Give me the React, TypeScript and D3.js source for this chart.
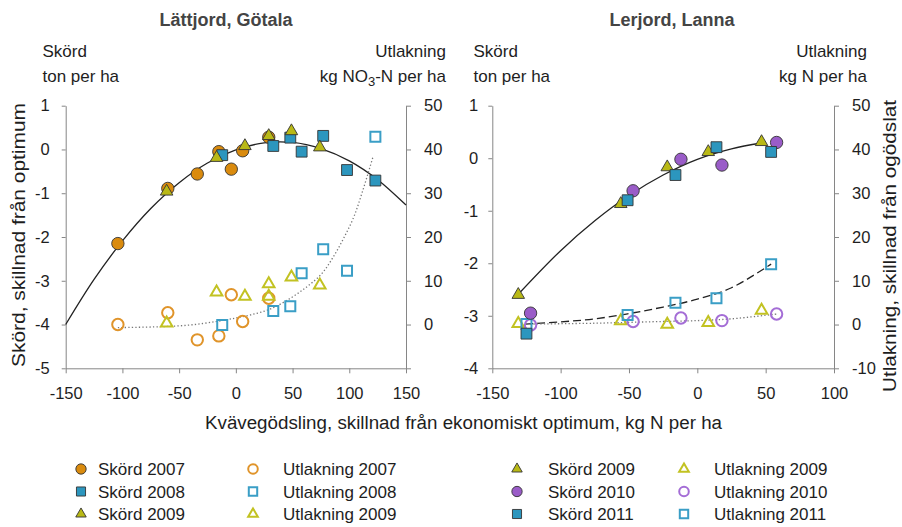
import { useEffect, useRef } from 'react';
import * as d3 from 'd3';

// Lättjord, Götala – x = N difference from economic optimum (kg N/ha)
const gotalaN2007 = [-104, -60, -34, -15, -4, 6, 29];
const gotalaSkord2007 = [-2.15, -0.89, -0.56, -0.05, -0.45, -0.03, 0.28];
const gotalaUtl2007 = [0, 2.7, -3.5, -2.6, 6.8, 0.7, 6.0];

const gotalaN2008 = [-12, 33, 48, 58, 77, 98, 123];
const gotalaSkord2008 = [-0.13, 0.08, 0.27, -0.05, 0.31, -0.47, -0.71];
const gotalaUtl2008 = [-0.1, 3.1, 4.2, 11.7, 17.2, 12.3, 42.9];

const gotalaN2009 = [-61, -17, 8, 29, 49, 74];
const gotalaSkord2009 = [-0.96, -0.19, 0.08, 0.31, 0.42, 0.05];
const gotalaUtlN2009 = [-61, -17, 8, 29, 29, 49, 74];
const gotalaUtl2009 = [0.3, 7.4, 6.4, 9.3, 6.4, 10.8, 9.0];

// trend lines
const gotalaYieldTrendN = [-150, -125, -100, -75, -50, -25, 0, 25, 50, 75, 100, 125, 150];
const gotalaYieldTrend = [-4.0, -2.97, -2.09, -1.35, -0.76, -0.31, -0.01, 0.15, 0.16, 0.02, -0.26, -0.69, -1.27];
const gotalaLeachTrendN = [-104, -67, -40, -17, 0, 13, 30, 48, 63, 76, 86, 95, 104, 112, 121];
const gotalaLeachTrend = [-0.7, -0.5, -0.1, 0.7, 1.5, 2.2, 3.5, 6.0, 8.7, 11.7, 15.5, 19.7, 24.6, 30.7, 38.4];

// Lerjord, Lanna
const lannaN2009 = [-131, -56, -22, 8, 47];
const lannaSkord2009 = [-2.6, -0.87, -0.17, 0.12, 0.31];
const lannaUtl2009 = [0.2, 0.8, 0.0, 0.4, 3.2];

const lannaN2010 = [-122, -47, -12, 18, 58];
const lannaSkord2010 = [-2.95, -0.62, -0.02, -0.13, 0.3];
const lannaUtl2010 = [-0.1, 0.7, 1.5, 0.9, 2.4];

const lannaN2011 = [-125, -51, -16, 14, 54];
const lannaSkord2011 = [-3.34, -0.8, -0.32, 0.21, 0.12];
const lannaUtl2011 = [0.1, 2.2, 5.0, 6.0, 13.8];

const lannaYieldTrendN = [-131, -100, -75, -50, -25, 0, 25, 47];
const lannaYieldTrend = [-2.59, -1.76, -1.19, -0.71, -0.32, -0.02, 0.18, 0.29];
const lannaDashedN = [-126, -100, -75, -50, -25, 0, 25, 54];
const lannaDashed = [0.1, 0.6, 1.3, 2.5, 4.0, 5.8, 8.4, 13.8];
const lannaDottedN = [-125, -75, -50, -25, 0, 25, 58];
const lannaDotted = [0.1, 0.3, 0.5, 0.7, 0.9, 1.3, 2.4];

const gotalaXTicks = [-150, -100, -50, 0, 50, 100, 150];
const gotalaYTicks = [1, 0, -1, -2, -3, -4, -5];
const gotalaY2Ticks = [50, 40, 30, 20, 10, 0];
const lannaXTicks = [-150, -100, -50, 0, 50, 100];
const lannaYTicks = [1, 0, -1, -2, -3, -4];
const lannaY2Ticks = [50, 40, 30, 20, 10, 0, -10];

const leftLegend = [
  { label: 'Skörd 2007', shape: 'circle', color: 'orange', filled: true },
  { label: 'Skörd 2008', shape: 'square', color: 'blue', filled: true },
  { label: 'Skörd 2009', shape: 'triangle', color: 'olive', filled: true },
  { label: 'Utlakning 2007', shape: 'circle', color: 'orange', filled: false },
  { label: 'Utlakning 2008', shape: 'square', color: 'blue', filled: false },
  { label: 'Utlakning 2009', shape: 'triangle', color: 'olive', filled: false }
];
const rightLegend = [
  { label: 'Skörd 2009', shape: 'triangle', color: 'olive', filled: true },
  { label: 'Skörd 2010', shape: 'circle', color: 'purple', filled: true },
  { label: 'Skörd 2011', shape: 'square', color: 'blue', filled: true },
  { label: 'Utlakning 2009', shape: 'triangle', color: 'olive', filled: false },
  { label: 'Utlakning 2010', shape: 'circle', color: 'purple', filled: false },
  { label: 'Utlakning 2011', shape: 'square', color: 'blue', filled: false }
];

const FILL = { orange: '#DA8B0E', blue: '#2C96BE', olive: '#B9B916', purple: '#9A5CC8' };
const LINE = { orange: '#E0942A', blue: '#3A9EC6', olive: '#C2C222', purple: '#A46DD6' };
const FONT = 'Arial, "Liberation Sans", sans-serif';
const AXIS = '#868686';

function symbolPath(shape, size) {
  const type = shape === 'circle' ? d3.symbolCircle : shape === 'square' ? d3.symbolSquare : d3.symbolTriangle;
  return d3.symbol().type(type).size(size)();
}

const SIZES = { circle: 120, square: 118, triangle: 68 };

export default function App() {
  const ref = useRef(null);

  useEffect(() => {
    const svg = d3.select(ref.current);
    svg.selectAll('*').remove();

    const top = 105.7;
    const bottom = 368.3;

    function panel(opts) {
      const x = d3.scaleLinear().domain(opts.xDomain).range([opts.left, opts.right]);
      const y = d3.scaleLinear().domain(opts.yDomain).range([bottom, top]);
      const y2 = d3.scaleLinear().domain([-10, 50]).range([bottom, top]);
      const g = svg.append('g');

      const styleAxis = (sel) => {
        sel.select('.domain').attr('stroke', AXIS);
        sel.selectAll('.tick line').attr('stroke', AXIS);
        sel.selectAll('text').attr('font-family', FONT).attr('font-size', 16.5).attr('fill', '#1e1e1e');
      };

      g.append('g')
        .attr('transform', `translate(0,${bottom})`)
        .call(d3.axisBottom(x).tickValues(opts.xTicks).tickSize(5).tickSizeOuter(0).tickPadding(14).tickFormat((d) => String(d)))
        .call(styleAxis);
      g.append('g')
        .attr('transform', `translate(${opts.left},0)`)
        .call(d3.axisLeft(y).tickValues(opts.yTicks).tickSize(4).tickSizeOuter(0).tickPadding(opts.leftPad).tickFormat((d) => String(d)))
        .call(styleAxis);
      g.append('g')
        .attr('transform', `translate(${opts.right},0)`)
        .call(d3.axisRight(y2).tickValues([50, 40, 30, 20, 10, 0, -10]).tickSize(5).tickSizeOuter(0).tickPadding(13).tickFormat((d) => (opts.y2Ticks.includes(d) ? String(d) : '')))
        .call(styleAxis);

      const line = (xs, ys, scale) =>
        d3.line().curve(d3.curveCatmullRom.alpha(0.5)).x((d) => x(d[0])).y((d) => scale(d[1]))(xs.map((v, i) => [v, ys[i]]));

      opts.curves.forEach((c) => {
        g.append('path')
          .attr('d', line(c.xs, c.ys, c.axis === 2 ? y2 : y))
          .attr('fill', 'none')
          .attr('stroke', c.color)
          .attr('stroke-width', c.width)
          .attr('stroke-dasharray', c.dash || null);
      });

      opts.series.forEach((s) => {
        const scale = s.axis === 2 ? y2 : y;
        g.append('g')
          .selectAll('path')
          .data(s.xs.map((v, i) => [v, s.ys[i]]))
          .join('path')
          .attr('transform', (d) => `translate(${x(d[0])},${scale(d[1])})`)
          .attr('d', symbolPath(s.shape, s.filled ? SIZES[s.shape] : SIZES[s.shape] * 0.85))
          .attr('fill', s.filled ? FILL[s.color] : 'none')
          .attr('stroke', s.filled ? '#333' : LINE[s.color])
          .attr('stroke-width', s.filled ? 0.9 : 2);
      });
    }

    panel({
      left: 65.7,
      right: 406,
      xDomain: [-150, 150],
      yDomain: [-5, 1],
      xTicks: gotalaXTicks,
      yTicks: gotalaYTicks,
      y2Ticks: gotalaY2Ticks,
      leftPad: 12,
      curves: [
        { xs: gotalaYieldTrendN, ys: gotalaYieldTrend, color: '#222', width: 1.3 },
        { xs: gotalaLeachTrendN, ys: gotalaLeachTrend, axis: 2, color: '#777', width: 1.3, dash: '1.3 2.2' }
      ],
      series: [
        { xs: gotalaN2007, ys: gotalaUtl2007, axis: 2, shape: 'circle', color: 'orange', filled: false },
        { xs: gotalaN2008, ys: gotalaUtl2008, axis: 2, shape: 'square', color: 'blue', filled: false },
        { xs: gotalaUtlN2009, ys: gotalaUtl2009, axis: 2, shape: 'triangle', color: 'olive', filled: false },
        { xs: gotalaN2007, ys: gotalaSkord2007, shape: 'circle', color: 'orange', filled: true },
        { xs: gotalaN2008, ys: gotalaSkord2008, shape: 'square', color: 'blue', filled: true },
        { xs: gotalaN2009, ys: gotalaSkord2009, shape: 'triangle', color: 'olive', filled: true }
      ]
    });

    panel({
      left: 492.3,
      right: 834,
      xDomain: [-150, 100],
      yDomain: [-4, 1],
      xTicks: lannaXTicks,
      yTicks: lannaYTicks,
      y2Ticks: lannaY2Ticks,
      leftPad: 10,
      curves: [
        { xs: lannaYieldTrendN, ys: lannaYieldTrend, color: '#222', width: 1.3 },
        { xs: lannaDashedN, ys: lannaDashed, axis: 2, color: '#222', width: 1.3, dash: '8 4' },
        { xs: lannaDottedN, ys: lannaDotted, axis: 2, color: '#777', width: 1.3, dash: '1.3 2.2' }
      ],
      series: [
        { xs: lannaN2009, ys: lannaUtl2009, axis: 2, shape: 'triangle', color: 'olive', filled: false },
        { xs: lannaN2010, ys: lannaUtl2010, axis: 2, shape: 'circle', color: 'purple', filled: false },
        { xs: lannaN2011, ys: lannaUtl2011, axis: 2, shape: 'square', color: 'blue', filled: false },
        { xs: lannaN2009, ys: lannaSkord2009, shape: 'triangle', color: 'olive', filled: true },
        { xs: lannaN2010, ys: lannaSkord2010, shape: 'circle', color: 'purple', filled: true },
        { xs: lannaN2011, ys: lannaSkord2011, shape: 'square', color: 'blue', filled: true }
      ]
    });

    const text = (x, y, str, opts = {}) => {
      const t = svg
        .append('text')
        .attr('x', x)
        .attr('y', y)
        .attr('font-family', FONT)
        .attr('font-size', opts.size || 17)
        .attr('font-weight', opts.bold ? 'bold' : null)
        .attr('fill', opts.color || '#1e1e1e')
        .attr('text-anchor', opts.anchor || 'start')
        .attr('transform', opts.rotate ? `rotate(-90 ${x} ${y})` : null)
        .text(str);
      if (opts.length) t.attr('textLength', opts.length).attr('lengthAdjust', 'spacingAndGlyphs');
      return t;
    };

    text(226, 26, 'Lättjord, Götala', { bold: true, anchor: 'middle', color: '#444', size: 18 });
    text(672, 26, 'Lerjord, Lanna', { bold: true, anchor: 'middle', color: '#444', size: 18 });

    text(42.5, 57, 'Skörd');
    text(42.5, 82, 'ton per ha');
    text(446, 57, 'Utlakning', { anchor: 'end' });
    const kg = text(446, 82, 'kg NO', { anchor: 'end' });
    kg.append('tspan').attr('dy', 4).attr('font-size', 13).text('3');
    kg.append('tspan').attr('dy', -4).text('-N per ha');

    text(473.5, 57, 'Skörd');
    text(473.5, 82, 'ton per ha');
    text(867, 57, 'Utlakning', { anchor: 'end' });
    text(867, 82, 'kg N per ha', { anchor: 'end' });

    text(25, 235, 'Skörd, skillnad från optimum', { rotate: true, anchor: 'middle', size: 19, length: 264 });
    text(896, 246, 'Utlakning, skillnad från ogödslat', { rotate: true, anchor: 'middle', size: 19, length: 292 });
    text(463.5, 429, 'Kvävegödsling, skillnad från ekonomiskt optimum, kg N per ha', { anchor: 'middle', size: 18, length: 517 });

    const legend = (items, x0, x1, tx0, tx1) => {
      items.forEach((it, i) => {
        const col = i < 3 ? 0 : 1;
        const row = i % 3;
        const cy = 469 + row * 22.5;
        svg
          .append('path')
          .attr('transform', `translate(${col === 0 ? x0 : x1},${cy})`)
          .attr('d', symbolPath(it.shape, it.filled ? SIZES[it.shape] * 0.7 : SIZES[it.shape] * 0.6))
          .attr('fill', it.filled ? FILL[it.color] : 'none')
          .attr('stroke', it.filled ? '#333' : LINE[it.color])
          .attr('stroke-width', it.filled ? 0.9 : 2);
        text(col === 0 ? tx0 : tx1, cy + 6, it.label);
      });
    };
    legend(leftLegend, 81, 253, 98, 283);
    legend(rightLegend, 517, 684, 548, 714);
  }, []);

  return (
    <svg
      ref={ref}
      width={902}
      height={527}
      style={{ position: 'absolute', left: 0, top: 0, background: '#fff' }}
    />
  );
}
